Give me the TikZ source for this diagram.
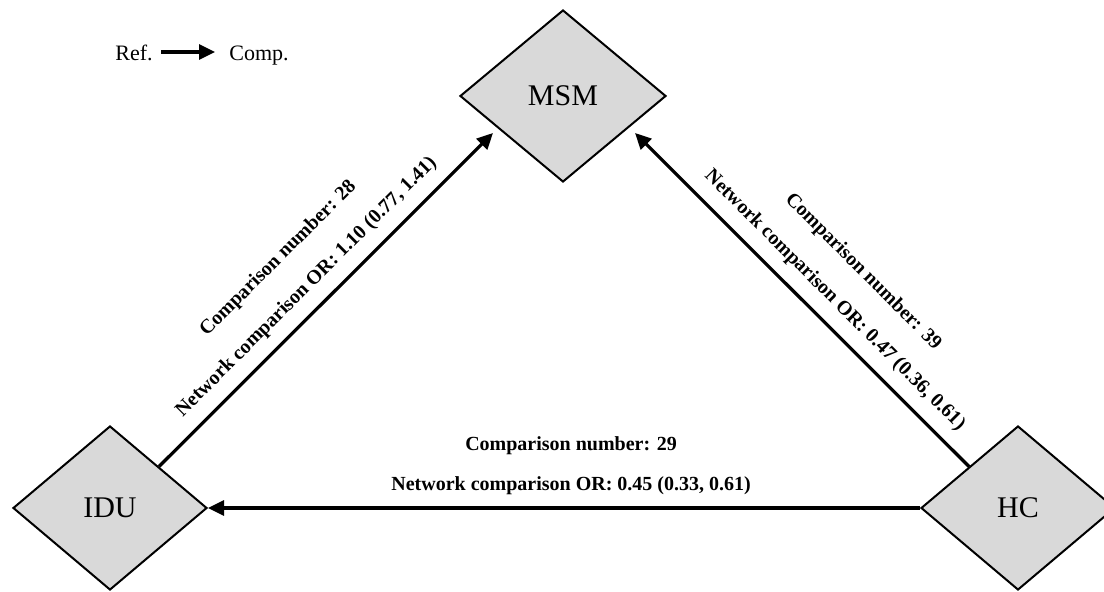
\documentclass[tikz,border=0pt]{standalone}
\usepackage{fontspec}
\setmainfont{Liberation Serif}
\usepackage{tikz}
\usetikzlibrary{shapes,arrows.meta}
\usetikzlibrary{positioning}

\begin{document}
\begin{tikzpicture}[x=0.5pt,y=-0.5pt]
\useasboundingbox (0,0) rectangle (1104,592);

\tikzset{>={Triangle[length=8pt,width=7.5pt]}}
\definecolor{boxgray}{RGB}{217,217,217}
\tikzstyle{group} = [
	draw, fill=boxgray, diamond, line width=1pt,
	minimum width=97pt, minimum height=82pt, inner sep=0pt,
	font=\fontsize{15}{18}\selectfont ];
\tikzstyle{link} = [->, line width=1.6pt];
\tikzstyle{stat} = [sloped, above, align=center, inner xsep=0pt, inner ysep=6pt,
	font=\fontsize{10}{20}\selectfont\bfseries ];
\tikzstyle{key} = [inner sep=4pt, text height=8.7pt, text depth=0pt,
	font=\fontsize{11}{13}\selectfont ];

\node[group,minimum width=103pt,minimum height=86pt] (msm) at (563,96) { MSM };
\node[group] (idu) at (110,508) { IDU };
\node[group] (hc) at (1018,508) { HC };

\coordinate (msm-l) at (493,133);
\coordinate (msm-r) at (635,133);

\draw[link] (idu.north east) -- node[stat,pos=.49]
	{Comparison number: 28\\Network comparison OR: 1.10 (0.77, 1.41)} (msm-l);
\draw[link] (hc.north west) -- node[stat,pos=.45]
	{Comparison number: 39\\Network comparison OR: 0.47 (0.36, 0.61)} (msm-r);
\draw[link] (hc.west) -- node[stat,pos=.49]
	{Comparison number: 29\\Network comparison OR: 0.45 (0.33, 0.61)} (idu.east);

% legend
\node[key] (ref) at (134,52) {Ref.};
\node[key,right=30pt of ref] (comp) {Comp.};
\draw[link,shorten >=3pt] (ref) -- (comp);

\end{tikzpicture}
\end{document}
